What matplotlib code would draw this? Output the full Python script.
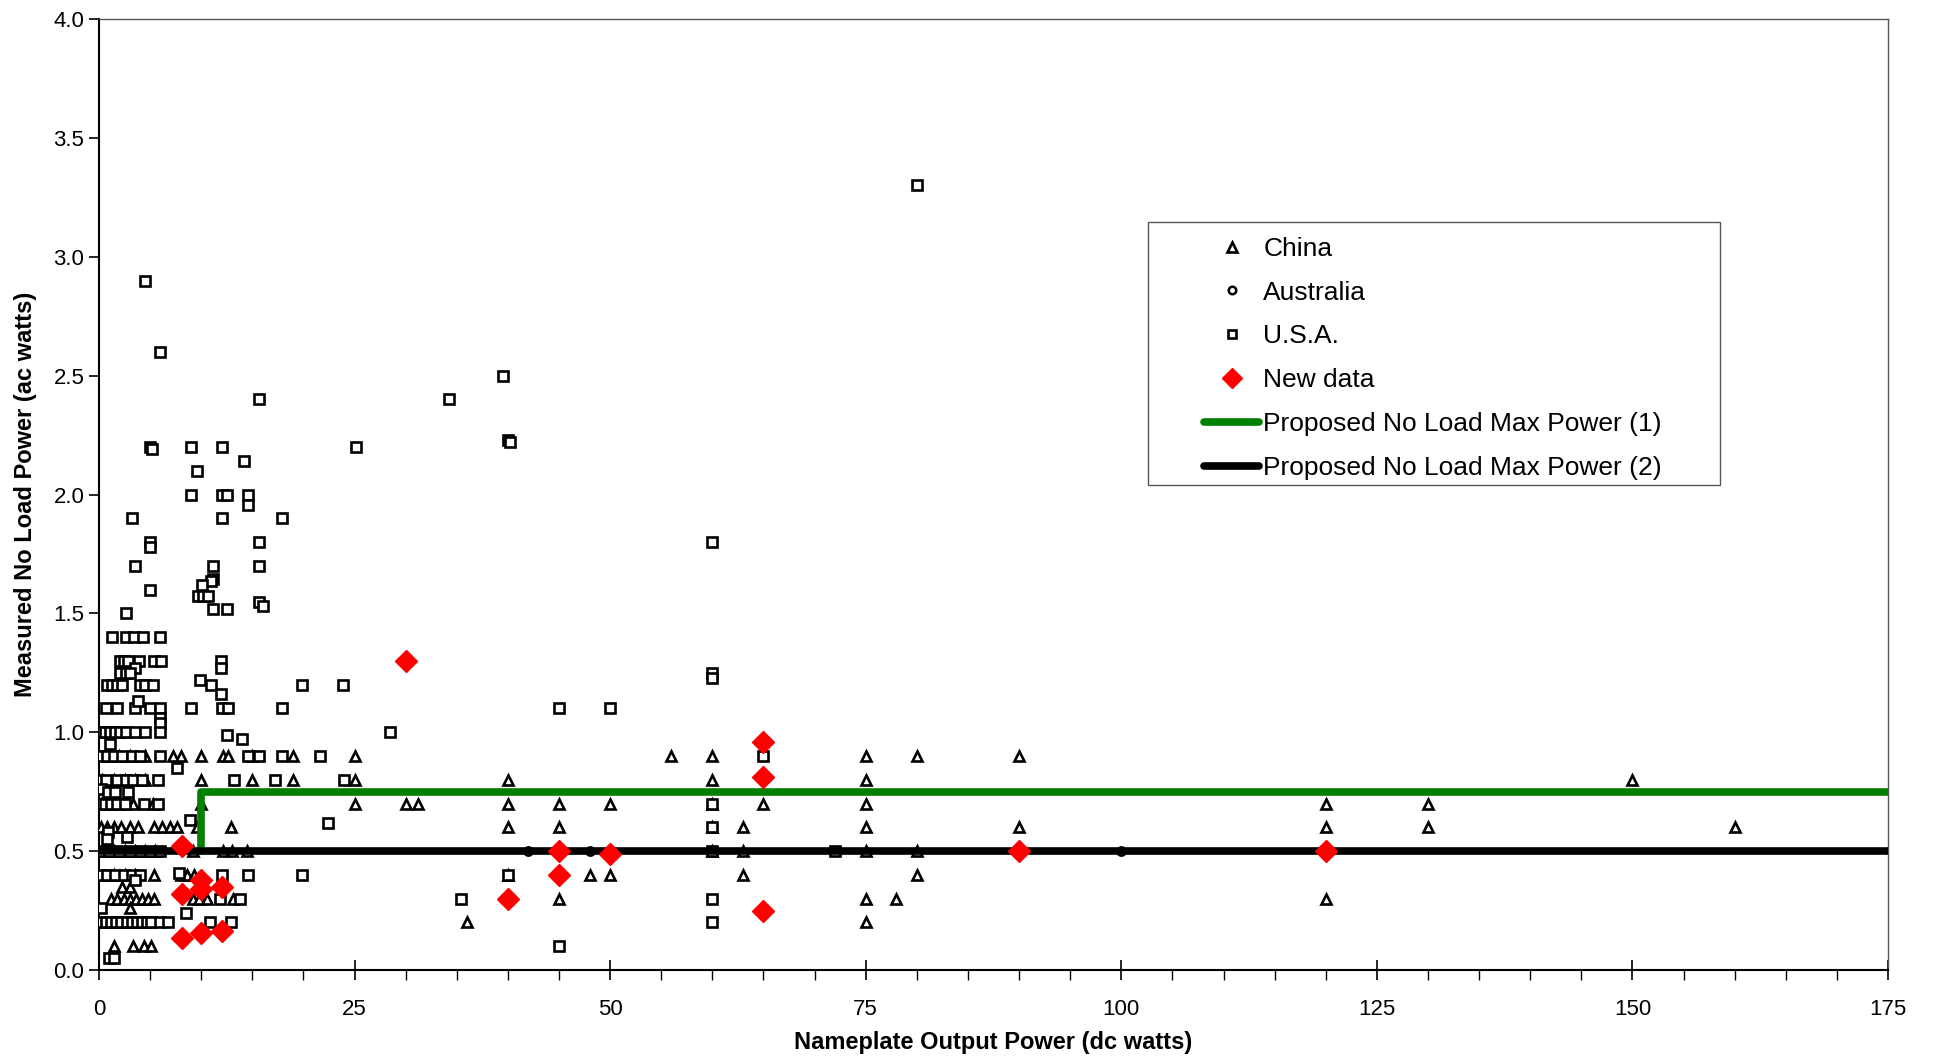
import matplotlib.pyplot as plt
from matplotlib.patches import Rectangle
from matplotlib.ticker import MultipleLocator

plt.rcParams['font.family'] = ['Liberation Sans', 'DejaVu Sans']

# China measurements (triangles)
china = [
    (1.0, 0.9), (2.0, 0.9), (3.0, 0.9), (4.5, 0.9), (7.2, 0.9), (8.0, 0.9), (10.0, 0.9),
    (12.1, 0.9), (12.6, 0.9), (15.0, 0.9), (19.0, 0.9), (25.0, 0.9), (56, 0.9), (60, 0.9),
    (75, 0.9), (80, 0.9), (90, 0.9),
    (0.3, 0.8), (1.5, 0.8), (2.5, 0.8), (3.5, 0.8), (4.5, 0.8), (10.0, 0.8), (15.0, 0.8),
    (19.0, 0.8), (25.0, 0.8), (40, 0.8), (60, 0.8), (75, 0.8), (150, 0.8),
    (0.2, 0.7), (1.0, 0.7), (2.0, 0.7), (3.3, 0.7), (5.3, 0.7), (10.0, 0.7), (25.0, 0.7),
    (30.0, 0.7), (31.2, 0.7), (40, 0.7), (45, 0.7), (50, 0.7), (60, 0.7), (65, 0.7),
    (75, 0.7), (120, 0.7), (130, 0.7),
    (0.2, 0.6), (0.8, 0.6), (1.5, 0.6), (2.2, 0.6), (3.0, 0.6), (3.8, 0.6), (5.4, 0.6),
    (6.2, 0.6), (6.9, 0.6), (7.6, 0.6), (9.6, 0.6), (12.9, 0.6), (40, 0.6), (45, 0.6),
    (60, 0.6), (63, 0.6), (75, 0.6), (90, 0.6), (120, 0.6), (130, 0.6), (160, 0.6),
    (0.5, 0.5), (1.5, 0.5), (2.5, 0.5), (3.5, 0.5), (4.5, 0.5), (5.5, 0.5), (9.2, 0.5),
    (12.1, 0.5), (13.0, 0.5), (14.5, 0.5), (60, 0.5), (63, 0.5), (75, 0.5), (80, 0.5),
    (1.5, 0.4), (2.5, 0.4), (3.5, 0.4), (5.4, 0.4), (8.0, 0.4), (8.6, 0.4), (9.3, 0.4),
    (40, 0.4), (48, 0.4), (50, 0.4), (63, 0.4), (80, 0.4),
    (2.3, 0.35), (3.0, 0.35),
    (1.2, 0.3), (1.8, 0.3), (2.4, 0.3), (3.0, 0.3), (3.6, 0.3), (4.2, 0.3), (4.8, 0.3),
    (5.4, 0.3), (9.2, 0.3), (9.8, 0.3), (10.6, 0.3), (13.1, 0.3), (45, 0.3), (75, 0.3),
    (78, 0.3), (120, 0.3),
    (3.0, 0.26), (36, 0.2), (75, 0.2),
    (1.5, 0.1), (3.3, 0.1), (4.4, 0.1), (5.1, 0.1),
]

# Australia measurements (circles)
australia = [(42, 0.5), (48, 0.5), (100, 0.5)]

# U.S.A. measurements (squares)
usa = [
    (80, 3.3), (4.5, 2.9), (6.0, 2.6), (15.7, 2.4), (34.2, 2.4), (39.5, 2.5), (40, 2.23),
    (40.2, 2.22), (5.0, 2.2), (5.2, 2.19), (9.0, 2.2), (12.0, 2.2), (25.1, 2.2), (14.2, 2.14),
    (9.6, 2.1), (9.0, 2.0), (12.0, 2.0), (12.5, 2.0), (14.6, 2.0), (14.6, 1.955), (3.2, 1.9),
    (12.0, 1.9), (17.9, 1.9), (5.0, 1.8), (5.0, 1.78), (15.7, 1.8), (60, 1.8), (3.5, 1.7),
    (11.2, 1.7), (15.7, 1.7), (11.2, 1.645), (11.0, 1.635), (5.0, 1.6), (10.1, 1.62),
    (9.7, 1.575), (10.2, 1.575), (10.7, 1.575), (15.7, 1.55), (16.0, 1.53), (2.6, 1.5),
    (11.2, 1.52), (12.5, 1.52),
    (1.3, 1.4), (2.6, 1.4), (3.4, 1.4), (4.3, 1.4), (6.0, 1.4),
    (2.1, 1.3), (2.4, 1.3), (2.8, 1.3), (3.9, 1.3), (5.4, 1.3), (6.1, 1.3), (11.9, 1.3),
    (3.5, 1.27), (11.9, 1.27), (2.1, 1.25), (2.6, 1.25), (3.0, 1.25), (60, 1.25), (60, 1.23),
    (0.8, 1.2), (1.3, 1.2), (1.8, 1.2), (2.3, 1.2), (4.0, 1.2), (4.5, 1.2), (5.3, 1.2),
    (9.9, 1.22), (11.0, 1.2), (11.9, 1.16), (19.9, 1.2), (23.9, 1.2),
    (0.7, 1.1), (1.8, 1.1), (3.5, 1.1), (3.8, 1.13), (5.0, 1.1), (6.0, 1.1), (9.0, 1.1),
    (12.0, 1.1), (12.6, 1.1), (17.9, 1.1), (45, 1.1), (50, 1.1), (6.0, 1.06), (6.0, 1.04),
    (0.1, 1.0), (0.6, 1.0), (1.1, 1.0), (1.6, 1.0), (2.1, 1.0), (2.6, 1.0), (3.5, 1.0),
    (4.5, 1.0), (6.0, 1.0), (12.5, 0.99), (14.0, 0.97), (28.5, 1.0), (1.1, 0.95),
    (0.3, 0.9), (0.8, 0.9), (1.5, 0.9), (2.3, 0.9), (3.2, 0.9), (4.0, 0.9), (6.0, 0.9),
    (14.6, 0.9), (15.7, 0.9), (17.9, 0.9), (21.6, 0.9), (65, 0.9), (7.6, 0.85),
    (0.0, 0.8), (0.7, 0.8), (1.8, 0.8), (2.6, 0.8), (3.3, 0.8), (4.2, 0.8), (5.8, 0.8),
    (13.2, 0.8), (17.2, 0.8), (24.0, 0.8),
    (0.2, 0.76), (0.9, 0.75), (1.6, 0.75), (2.8, 0.75),
    (0.1, 0.7), (0.6, 0.7), (1.2, 0.7), (1.8, 0.7), (2.5, 0.7), (4.4, 0.7), (5.8, 0.7),
    (60, 0.7), (8.9, 0.63), (22.4, 0.62), (60, 0.6), (0.9, 0.58), (0.8, 0.55), (2.7, 0.56),
    (0.3, 0.5), (1.0, 0.5), (2.0, 0.5), (3.0, 0.5), (4.0, 0.5), (5.0, 0.5), (6.0, 0.5),
    (60, 0.5), (72, 0.5),
    (0.2, 0.4), (0.8, 0.4), (1.6, 0.4), (2.4, 0.4), (3.2, 0.4), (4.0, 0.4), (7.8, 0.41),
    (12.0, 0.4), (14.6, 0.4), (19.9, 0.4), (40, 0.4), (3.5, 0.38),
    (11.8, 0.3), (13.8, 0.3), (35.4, 0.3), (60, 0.3), (0.2, 0.26), (8.5, 0.24),
    (0.2, 0.2), (0.7, 0.2), (1.2, 0.2), (1.7, 0.2), (2.2, 0.2), (2.7, 0.2), (3.2, 0.2),
    (3.7, 0.2), (4.2, 0.2), (4.7, 0.2), (5.1, 0.2), (6.0, 0.2), (6.8, 0.2), (10.9, 0.2),
    (12.9, 0.2), (60, 0.2),
    (45, 0.1), (1.0, 0.05), (1.5, 0.05),
]

# New data (red diamonds)
new_data = [
    (8.1, 0.52), (8.1, 0.32), (8.1, 0.135), (10, 0.38), (10, 0.34), (10, 0.155),
    (12, 0.35), (12, 0.165), (30, 1.3), (40, 0.30), (45, 0.50), (45, 0.40), (50, 0.49),
    (65, 0.96), (65, 0.81), (65, 0.25), (90, 0.5), (120, 0.5),
]

# Proposed limits
limit1_x = [10, 10, 175]
limit1_y = [0.5, 0.75, 0.75]
limit2_x = [0, 175]
limit2_y = [0.5, 0.5]

fig = plt.figure(figsize=(19.37, 10.57), dpi=100)
ax = fig.add_axes([0.0511, 0.0823, 0.9236, 0.8997])


def xy(points):
    return [p[0] for p in points], [p[1] for p in points]


cx, cy = xy(china)
ax.plot(cx, cy, ls='none', marker='^', ms=7.5, mfc='white', mec='black', mew=1.9,
        label='China', zorder=3)
axx, axy = xy(australia)
ax.plot(axx, axy, ls='none', marker='o', ms=6, mfc='white', mec='black', mew=1.8,
        label='Australia', zorder=3)
ux, uy = xy(usa)
ax.plot(ux, uy, ls='none', marker='s', ms=6.8, mfc='white', mec='black', mew=1.9,
        label='U.S.A.', zorder=3)

ax.plot(limit1_x, limit1_y, color='#008000', lw=5.5, solid_capstyle='round',
        solid_joinstyle='round', label='Proposed No Load Max Power (1)', zorder=4)
ax.plot(limit2_x, limit2_y, color='black', lw=5.5, solid_capstyle='round',
        label='Proposed No Load Max Power (2)', zorder=4)

nx, ny = xy(new_data)
ax.plot(nx, ny, ls='none', marker='D', ms=11, mfc='#ff0000', mec='#ff0000',
        label='New data', zorder=5)

ax.set_xlim(0, 175)
ax.set_ylim(0, 4.0)
ax.xaxis.set_major_locator(MultipleLocator(25))
ax.xaxis.set_minor_locator(MultipleLocator(5))
ax.yaxis.set_major_locator(MultipleLocator(0.5))
ax.yaxis.set_major_formatter(plt.FormatStrFormatter('%.1f'))
ax.tick_params(axis='x', which='major', direction='inout', length=14, width=1.2,
               labelsize=16, pad=14)
ax.tick_params(axis='x', which='minor', direction='out', length=7, width=1)
ax.tick_params(axis='y', which='major', direction='out', length=7, width=1.2,
               labelsize=16)
for side in ['left', 'bottom']:
    ax.spines[side].set_linewidth(1.5)
for side in ['top', 'right']:
    ax.spines[side].set_linewidth(1.0)
    ax.spines[side].set_color('#555555')

ax.set_xlabel('Nameplate Output Power (dc watts)', fontsize=17, fontweight='bold',
              labelpad=8)
ax.set_ylabel('Measured No Load Power (ac watts)', fontsize=17, fontweight='bold',
              labelpad=12)

# legend frame drawn separately so the inner padding can match
ax.add_patch(Rectangle((0.5864, 0.510), 0.3197, 0.2766, transform=ax.transAxes,
                       facecolor='white', edgecolor='#555555', lw=1.0, zorder=6))

handles, labels = ax.get_legend_handles_labels()
order = ['China', 'Australia', 'U.S.A.', 'New data',
         'Proposed No Load Max Power (1)', 'Proposed No Load Max Power (2)']
hmap = dict(zip(labels, handles))
leg = ax.legend([hmap[k] for k in order], order, loc='upper left',
                bbox_to_anchor=(0.6177, 0.771), fontsize=19, frameon=False,
                handlelength=2.1, handletextpad=0.15, labelspacing=0.75,
                borderpad=0, borderaxespad=0, markerscale=0.9)
leg.set_zorder(7)

fig.savefig('out.png', dpi=100)
